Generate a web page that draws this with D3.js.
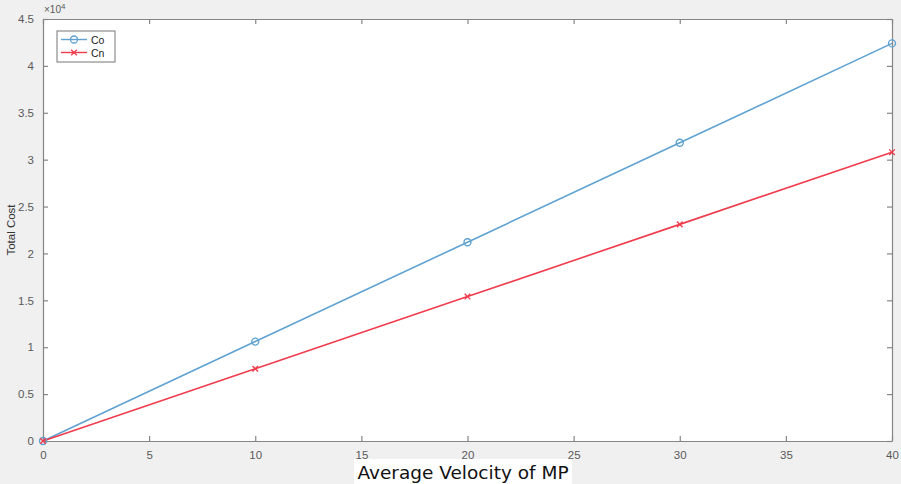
<!DOCTYPE html>
<html>
<head>
<meta charset="utf-8">
<script src="https://cdn.jsdelivr.net/npm/d3@7"></script>
<style>
  body { margin: 0; background: #f0f0f0; }
  svg { display: block; }
</style>
</head>
<body>
<script>
var svgWidth = 901;
var svgHeight = 484;

var margin = {
    top: 19,
    right: 9,
    bottom: 43,
    left: 43
}

var chartWidth = svgWidth - margin.left - margin.right;
var chartHeight = svgHeight - margin.top - margin.bottom;

// data
var velocity = [0, 10, 20, 30, 40];
var costCo = [0, 10600, 21200, 31800, 42400];
var costCn = [0, 7700, 15400, 23100, 30800];
var xTicks = [0, 5, 10, 15, 20, 25, 30, 35, 40];
var yTicks = [0, 5000, 10000, 15000, 20000, 25000, 30000, 35000, 40000, 45000];
var seriesNames = ["Co", "Cn"];

var blue = "#5fa2d2";
var red = "#f03c4c";

var svg = d3.select("body")
    .append("svg")
    .attr("width", svgWidth)
    .attr("height", svgHeight);

var chartGroup = svg.append("g")
    .attr("transform", `translate(${margin.left}, ${margin.top})`);

var xScale = d3.scaleLinear()
    .range([0, chartWidth])
    .domain([0, 40]);

var yScale = d3.scaleLinear()
    .range([chartHeight, 0])
    .domain([0, 45000]);

chartGroup.append("rect")
    .attr("width", chartWidth)
    .attr("height", chartHeight)
    .attr("fill", "#ffffff");

// matlab style: ticks inward, box on
var bottomAxis = d3.axisBottom(xScale).tickValues(xTicks).tickSizeInner(-5).tickSizeOuter(0).tickPadding(10);
var leftAxis = d3.axisLeft(yScale).tickValues(yTicks).tickSizeInner(-5).tickSizeOuter(0).tickPadding(9)
    .tickFormat(d => d3.format("~g")(d / 10000));
var topAxis = d3.axisTop(xScale).tickValues(xTicks).tickSizeInner(-5).tickSizeOuter(0).tickFormat("");
var rightAxis = d3.axisRight(yScale).tickValues(yTicks).tickSizeInner(-5).tickSizeOuter(0).tickFormat("");

chartGroup.append("g").attr("class", "axis").call(topAxis);
chartGroup.append("g").attr("class", "axis").attr("transform", `translate(${chartWidth}, 0)`).call(rightAxis);
chartGroup.append("g").attr("class", "axis").call(leftAxis);
chartGroup.append("g").attr("class", "axis").attr("transform", `translate(0, ${chartHeight})`).call(bottomAxis);

chartGroup.selectAll(".axis path, .axis line")
    .attr("stroke", "#858585")
    .attr("stroke-width", 1.2);
chartGroup.selectAll(".axis text")
    .attr("fill", "#5a5a5a")
    .style("font-family", "Liberation Sans, Arial, sans-serif")
    .style("font-size", "11.5px");

// exponent label
chartGroup.append("text")
    .attr("x", 1)
    .attr("y", -6)
    .attr("fill", "#5a5a5a")
    .style("font-family", "Liberation Sans, Arial, sans-serif")
    .style("font-size", "10px")
    .html("×10<tspan dy='-4' font-size='8px'>4</tspan>");

// y label
svg.append("text")
    .attr("transform", `translate(15, ${margin.top + chartHeight / 2}) rotate(-90)`)
    .attr("text-anchor", "middle")
    .attr("fill", "#333")
    .style("font-family", "Liberation Sans, Arial, sans-serif")
    .style("font-size", "11.5px")
    .text("Total Cost");

// x label with white box
var xLabel = svg.append("g");
xLabel.append("rect")
    .attr("x", 354)
    .attr("y", 459)
    .attr("width", 218)
    .attr("height", 25)
    .attr("fill", "#ffffff");
xLabel.append("text")
    .attr("x", 463)
    .attr("y", 479)
    .attr("text-anchor", "middle")
    .attr("fill", "#111")
    .style("font-family", "DejaVu Sans, Verdana, sans-serif")
    .style("font-size", "18.5px")
    .text("Average Velocity of MP");

var line = d3.line()
    .x((d, i) => xScale(velocity[i]))
    .y(d => yScale(d));

chartGroup.append("path")
    .datum(costCo)
    .attr("fill", "none")
    .attr("stroke", blue)
    .attr("stroke-width", 1.6)
    .attr("d", line);

chartGroup.append("path")
    .datum(costCn)
    .attr("fill", "none")
    .attr("stroke", red)
    .attr("stroke-width", 1.6)
    .attr("d", line);

chartGroup.selectAll(".markCo")
    .data(costCo)
    .enter()
    .append("circle")
    .attr("cx", (d, i) => xScale(velocity[i]))
    .attr("cy", d => yScale(d))
    .attr("r", 3.5)
    .attr("fill", "none")
    .attr("stroke", blue)
    .attr("stroke-width", 1.4);

var cross = d3.symbol().type(d3.symbolX).size(22);
chartGroup.selectAll(".markCn")
    .data(costCn)
    .enter()
    .append("path")
    .attr("transform", (d, i) => `translate(${xScale(velocity[i])}, ${yScale(d)})`)
    .attr("d", cross)
    .attr("stroke", red)
    .attr("stroke-width", 1.4);

// legend
var legend = chartGroup.append("g").attr("transform", "translate(14, 12)");
legend.append("rect")
    .attr("width", 58)
    .attr("height", 31)
    .attr("fill", "#ffffff")
    .attr("stroke", "#777")
    .attr("stroke-width", 1);

seriesNames.forEach(function(name, i) {
    var y = 8.5 + i * 13;
    var col = i == 0 ? blue : red;
    legend.append("line")
        .attr("x1", 4).attr("x2", 30)
        .attr("y1", y).attr("y2", y)
        .attr("stroke", col)
        .attr("stroke-width", 1.4);
    if (i == 0) {
        legend.append("circle")
            .attr("cx", 17).attr("cy", y).attr("r", 3.5)
            .attr("fill", "none").attr("stroke", col).attr("stroke-width", 1.3);
    } else {
        legend.append("path")
            .attr("transform", `translate(17, ${y})`)
            .attr("d", cross)
            .attr("stroke", col).attr("stroke-width", 1.3);
    }
    legend.append("text")
        .attr("x", 34)
        .attr("y", y + 4)
        .attr("fill", "#222")
        .style("font-family", "Liberation Sans, Arial, sans-serif")
        .style("font-size", "10.5px")
        .text(name);
});
</script>
</body>
</html>
